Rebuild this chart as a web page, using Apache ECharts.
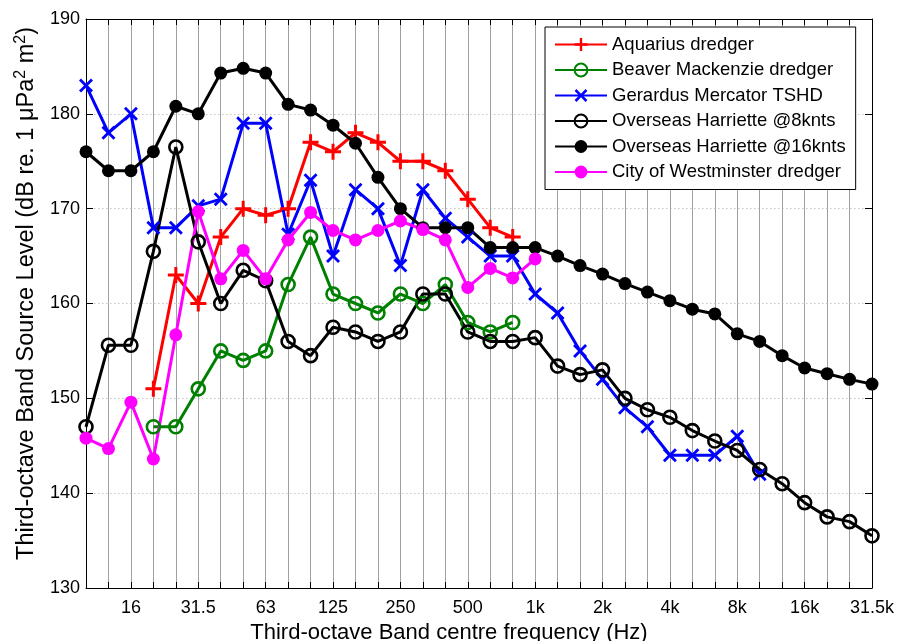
<!DOCTYPE html>
<html>
<head>
<meta charset="utf-8">
<script src="https://cdn.jsdelivr.net/npm/echarts@6/dist/echarts.min.js"></script>
<style>
  html, body { margin: 0; padding: 0; background: #fff; }
  #chart { width: 897px; height: 641px; }
</style>
</head>
<body>
<div id="chart"></div>
<script>
// Third-octave band centre frequencies (Hz)
const bands = ['10','12.5','16','20','25','31.5','40','50','63','80','100','125','160','200','250','315','400','500','630','800',
  '1k','1.25k','1.6k','2k','2.5k','3.15k','4k','5k','6.3k','8k','10k','12.5k','16k','20k','25k','31.5k'];

// Source levels per band, dB re. 1 µPa² m²
const aquarius = [null,null,null,151,163,160,167,170,169.3,170,177,176,178,177,175,175,174,171,168,167];
const beaver = [null,null,null,147,147,151,155,154,155,162,167,161,160,159,161,160,162,158,157,158];
const gerardus = [183,178,180,168,168,170.3,171,179,179,167.3,173,165,172,170,164,172,169,167,165,165,
  161,159,155,152,149,147,144,144,144,146,142];
const harriette8 = [147,155.6,155.6,165.5,176.5,166.5,160,163.5,162.4,156,154.5,157.5,157,156,157,161,161,157,156,156,
  156.4,153.4,152.5,153,150,148.8,148,146.6,145.5,144.5,142.5,141,139,137.5,137,135.5];
const harriette16 = [176,174,174,176,180.8,180,184.3,184.8,184.3,181,180.4,178.8,176.9,173.3,170,168,168,168,165.9,165.9,
  165.9,165,164,163.1,162.1,161.2,160.3,159.4,158.9,156.8,156,154.5,153.2,152.6,152,151.5];
const westminster = [145.8,144.7,149.6,143.6,156.7,169.7,162.6,165.6,162.6,166.7,169.6,167.7,166.7,167.7,168.7,167.8,166.7,161.7,163.7,162.7,164.7];

const FONT = '"Liberation Sans", Arial, Helvetica, sans-serif';
const PLUS = 'path://M-1.5,-8H1.5V-1.5H8V1.5H1.5V8H-1.5V1.5H-8V-1.5H-1.5Z';
const CROSS = 'path://M0,2L2,0L7,5L12,0L14,2L9,7L14,12L12,14L7,9L2,14L0,12L5,7Z';

function lineSeries(name, data, color, symbol, size, hollow) {
  return {
    name, type: 'line', data,
    symbol, symbolSize: size, showAllSymbol: true,
    connectNulls: false,
    lineStyle: { color, width: 3 },
    itemStyle: hollow
      ? { color: 'rgba(255,255,255,0)', borderColor: color, borderWidth: 2.6 }
      : { color },
    emphasis: { disabled: true }
  };
}

const chart = echarts.init(document.getElementById('chart'), null, { renderer: 'canvas' });
chart.setOption({
  animation: false,
  backgroundColor: '#fff',
  textStyle: { fontFamily: FONT },
  grid: { left: 86, right: 25, top: 19, bottom: 53, containLabel: false, outerBoundsMode: 'none' },
  legend: {
    orient: 'vertical', left: 545, top: 27,
    backgroundColor: '#fff', borderColor: '#000', borderWidth: 1, borderRadius: 0,
    padding: [8, 10, 8, 9], itemGap: 6.5, itemWidth: 52, itemHeight: 16,
    textStyle: { fontSize: 18.5, color: '#000', fontFamily: FONT },
    data: ['Aquarius dredger','Beaver Mackenzie dredger','Gerardus Mercator TSHD','Overseas Harriette @8knts','Overseas Harriette @16knts','City of Westminster dredger']
  },
  xAxis: [{
    type: 'category', data: bands, boundaryGap: false,
    name: 'Third-octave Band centre frequency (Hz)', nameLocation: 'middle', nameGap: 29,
    nameTextStyle: { fontSize: 22, color: '#000', fontFamily: FONT, padding: [0, 60, 0, 0] },
    axisLine: { lineStyle: { color: '#000', width: 1 } },
    axisTick: { inside: true, length: 6, interval: 0, lineStyle: { color: '#000' } },
    axisLabel: { interval: (i) => i % 3 === 2, fontSize: 18, color: '#000', margin: 11, fontFamily: FONT },
    splitLine: { show: true, interval: 0, lineStyle: { color: '#a0a0a0', width: 1 } }
  }, {
    type: 'category', data: bands, boundaryGap: false, position: 'top',
    axisLine: { lineStyle: { color: '#000', width: 1 } },
    axisTick: { inside: true, length: 6, interval: 0, lineStyle: { color: '#000' } },
    axisLabel: { show: false }, splitLine: { show: false }
  }],
  yAxis: [{
    type: 'value', min: 130, max: 190, interval: 10,
    name: '{t|Third-octave Band Source Level (dB re. 1 \u03bcPa}{s|2}{t| m}{s|2}{t|)}',
    nameLocation: 'middle', nameGap: 47, nameRotate: 90,
    nameTextStyle: {
      color: '#000', fontFamily: FONT, padding: [0, 0, 0, 20],
      rich: {
        t: { fontSize: 23.5, color: '#000', fontFamily: FONT, lineHeight: 26, verticalAlign: 'bottom' },
        s: { fontSize: 16, color: '#000', fontFamily: FONT, lineHeight: 26, verticalAlign: 'top' }
      }
    },
    axisLine: { show: true, lineStyle: { color: '#000', width: 1 } },
    axisTick: { show: true, inside: true, length: 7, lineStyle: { color: '#000' } },
    axisLabel: { fontSize: 18, color: '#000', margin: 6, fontFamily: FONT },
    splitLine: { show: true, lineStyle: { color: '#c4c4c4', type: [1.5, 2.5], width: 1 } }
  }, {
    type: 'value', min: 130, max: 190, interval: 10, position: 'right',
    axisLine: { show: true, lineStyle: { color: '#000', width: 1 } },
    axisTick: { show: true, inside: true, length: 7, lineStyle: { color: '#000' } },
    axisLabel: { show: false }, splitLine: { show: false }
  }],
  series: [
    lineSeries('Aquarius dredger', aquarius, '#ff0000', PLUS, 16, false),
    lineSeries('Beaver Mackenzie dredger', beaver, '#008000', 'circle', 13, true),
    lineSeries('Gerardus Mercator TSHD', gerardus, '#0000ff', CROSS, 14, false),
    lineSeries('Overseas Harriette @8knts', harriette8, '#000000', 'circle', 13, true),
    lineSeries('Overseas Harriette @16knts', harriette16, '#000000', 'circle', 13, false),
    lineSeries('City of Westminster dredger', westminster, '#ff00ff', 'circle', 13, false)
  ]
});
</script>
</body>
</html>
